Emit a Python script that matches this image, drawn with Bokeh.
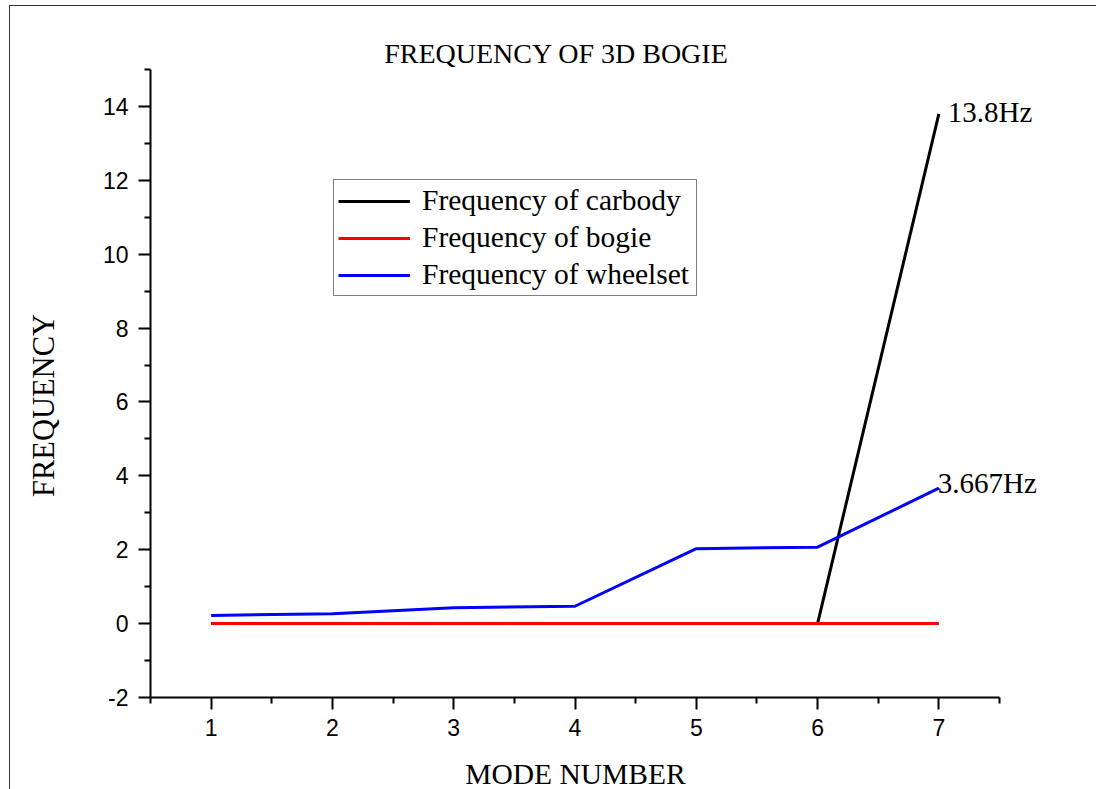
import math
from bokeh.plotting import figure
from bokeh.models import FixedTicker, Legend, LegendItem, ColumnDataSource, Range1d, Label
from bokeh.embed import file_html
from bokeh.resources import INLINE

# ---- data ----
modes = [1, 2, 3, 4, 5, 6, 7]
carbody = [0, 0, 0, 0, 0, 0, 13.8]
bogie = [0, 0, 0, 0, 0, 0, 0]
wheelset = [0.22, 0.27, 0.43, 0.47, 2.03, 2.07, 3.667]

x_ticks = [1, 2, 3, 4, 5, 6, 7]
x_minor = [0.5, 1.5, 2.5, 3.5, 4.5, 5.5, 6.5, 7.5]
y_ticks = [-2, 0, 2, 4, 6, 8, 10, 12, 14]
y_minor = [-1, 1, 3, 5, 7, 9, 11, 13, 15]
y_tick_labels = {t: str(t) for t in y_ticks}

SERIF = "Liberation Serif"
SANS = "Liberation Sans"

# ---- layout (pixels) ----
W, H = 1086, 783                 # canvas; page offset 10,6 for the outer frame line
AX_L, AX_R = 140, 989            # x axis from 0.5 to 7.5
AX_T, AX_B = 63, 691             # y axis from 15 to -2
x0, x1 = x_minor[0], x_minor[-1]
y0, y1 = y_ticks[0], y_minor[-1]
kx = (AX_R - AX_L) / (x1 - x0)
ky = (AX_B - AX_T) / (y1 - y0)
xr = Range1d(x0 - AX_L / kx, x1 + (W - AX_R) / kx)
yr = Range1d(y0 - (H - AX_B) / ky, y1 + AX_T / ky)

p = figure(width=W, height=H, output_backend="svg", toolbar_location=None,
           x_range=xr, y_range=yr,
           min_border_left=0, min_border_right=0, min_border_top=0, min_border_bottom=0)
p.styles = {"margin-left": "10px", "margin-top": "6px", "outline": "1px solid #333"}
p.outline_line_color = None
p.xgrid.visible = False
p.ygrid.visible = False
p.background_fill_color = "white"
p.border_fill_color = "white"

for ax in (p.xaxis[0], p.yaxis[0]):
    ax.axis_line_width = 2
    ax.axis_line_color = "black"
    ax.major_tick_line_width = 2
    ax.minor_tick_line_width = 2
    ax.major_tick_line_color = "black"
    ax.minor_tick_line_color = "black"
    ax.major_tick_out = 12
    ax.major_tick_in = 0
    ax.minor_tick_out = 6
    ax.minor_tick_in = 0
    ax.major_label_text_font = SANS
    ax.major_label_text_font_size = "23px"
    ax.major_label_text_color = "black"

p.xaxis[0].fixed_location = y0
p.xaxis[0].bounds = (x0, x1)
p.yaxis[0].fixed_location = x0
p.yaxis[0].bounds = (y0, y1)
p.xaxis[0].ticker = FixedTicker(ticks=x_ticks, minor_ticks=x_minor)
p.yaxis[0].ticker = FixedTicker(ticks=y_ticks, minor_ticks=y_minor)
p.yaxis[0].major_label_overrides = y_tick_labels
p.xaxis[0].major_label_standoff = 9
p.yaxis[0].major_label_standoff = 10

# titles (screen units from the canvas' bottom-left corner)
p.add_layout(Label(x=546, y=H - 47, x_units="screen", y_units="screen",
                   text="FREQUENCY OF 3D BOGIE", text_font=SERIF, text_font_size="28px",
                   text_color="black", text_align="center", text_baseline="alphabetic"))
p.add_layout(Label(x=565, y=H - 767, x_units="screen", y_units="screen",
                   text="MODE NUMBER", text_font=SERIF, text_font_size="29.5px",
                   text_color="black", text_align="center", text_baseline="alphabetic"))
p.add_layout(Label(x=33, y=H - 399, x_units="screen", y_units="screen",
                   text="FREQUENCY", angle=math.pi / 2, text_font=SERIF,
                   text_font_size="30.5px", text_color="black",
                   text_align="center", text_baseline="alphabetic"))

src = ColumnDataSource(dict(x=modes, carbody=carbody, bogie=bogie, wheelset=wheelset))
r_car = p.line("x", "carbody", source=src, line_color="black", line_width=3)
r_bog = p.line("x", "bogie", source=src, line_color="#ff0000", line_width=3)
r_whe = p.line("x", "wheelset", source=src, line_color="#0000ff", line_width=3)

p.add_layout(Label(x=modes[-1], y=carbody[-1], text=f"{carbody[-1]}Hz",
                   text_font=SERIF, text_font_size="29px", text_color="black",
                   text_align="left", text_baseline="middle", x_offset=9, y_offset=2))
p.add_layout(Label(x=modes[-1], y=wheelset[-1], text=f"{wheelset[-1]}Hz",
                   text_font=SERIF, text_font_size="29px", text_color="black",
                   text_align="left", text_baseline="middle", x_offset=-1, y_offset=5))

legend = Legend(items=[
    LegendItem(label="Frequency of carbody", renderers=[r_car]),
    LegendItem(label="Frequency of bogie", renderers=[r_bog]),
    LegendItem(label="Frequency of wheelset", renderers=[r_whe]),
], location=(323, H - 290))
legend.label_text_font = SERIF
legend.label_text_font_size = "29.5px"
legend.label_text_color = "black"
legend.border_line_color = "black"
legend.border_line_width = 1
legend.background_fill_color = "white"
legend.background_fill_alpha = 1
legend.glyph_width = 72
legend.label_standoff = 12
legend.label_width = 270
legend.padding = 4
legend.spacing = 4
legend.margin = 0
p.add_layout(legend, "center")

open("out.html", "w").write(file_html(p, INLINE))
